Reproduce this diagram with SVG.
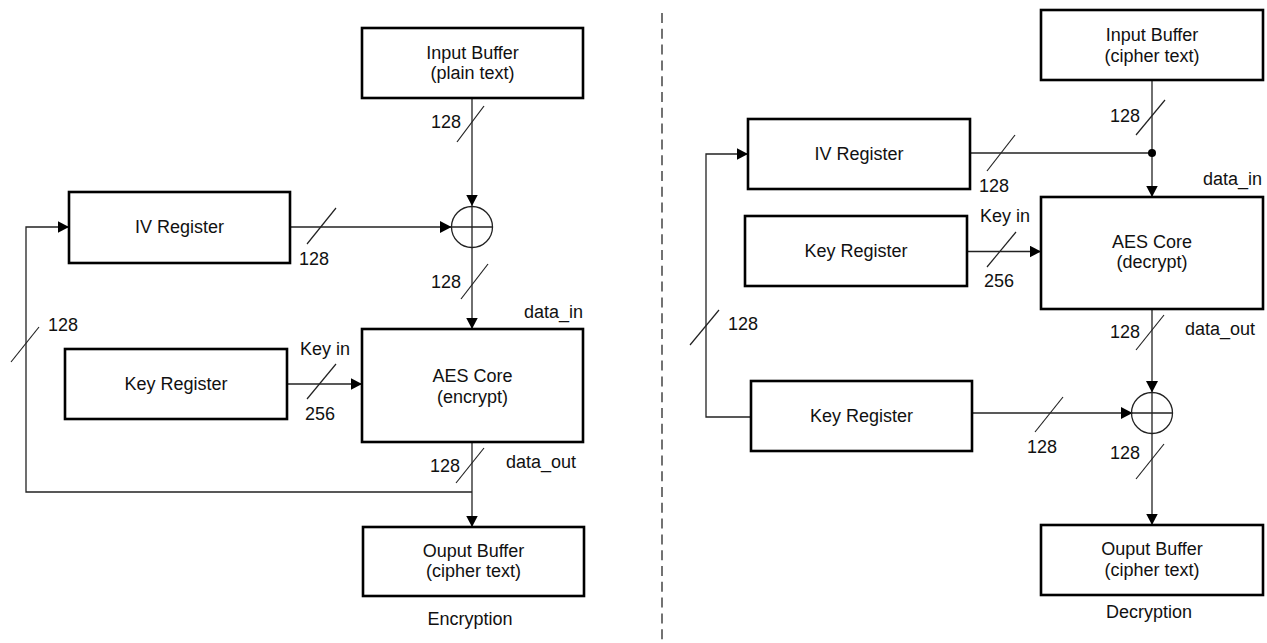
<svg xmlns="http://www.w3.org/2000/svg" width="1267" height="643" viewBox="0 0 1267 643">
<defs>
<marker id="arr" markerUnits="userSpaceOnUse" markerWidth="13" markerHeight="13" refX="11.5" refY="6" orient="auto">
<path d="M0,0 L11.5,6 L0,12 z" fill="#000"/>
</marker>
</defs>
<style>
text{font-family:"Liberation Sans",Arial,sans-serif;font-size:18px;fill:#111}
.box{fill:#fff;stroke:#000;stroke-width:2.6}
.ln{fill:none;stroke:#222;stroke-width:1.3}
.ar{marker-end:url(#arr)}
.sl{stroke:#222;stroke-width:1.2}
.c{text-anchor:middle}
.e{text-anchor:end}
</style>
<rect width="1267" height="643" fill="#fff"/>
<line x1="662" y1="13" x2="662" y2="643" stroke="#444" stroke-width="1.5" stroke-dasharray="10 5.8"/>

<g id="connectors">
<!-- encryption -->
<path class="ln ar" d="M472,98 V206"/>
<path class="ln ar" d="M290,227 H451.5"/>
<path class="ln ar" d="M472,247.5 V329"/>
<path class="ln ar" d="M287,384 H362"/>
<path class="ln ar" d="M472,442 V527"/>
<path class="ln ar" d="M472,492 H26 V227 H69"/>
<line class="sl" x1="457" y1="142" x2="484" y2="106"/>
<line class="sl" x1="307" y1="244" x2="336" y2="208"/>
<line class="sl" x1="461" y1="299" x2="488" y2="264"/>
<line class="sl" x1="307" y1="399" x2="336" y2="364"/>
<line class="sl" x1="456" y1="483" x2="484" y2="448"/>
<line class="sl" x1="11" y1="362" x2="39" y2="327"/>
<text class="e" x="461" y="128">128</text>
<text x="299" y="265">128</text>
<text class="e" x="461" y="288">128</text>
<text x="524" y="318">data_in</text>
<text x="300" y="355">Key in</text>
<text x="305" y="420">256</text>
<text class="e" x="460" y="472">128</text>
<text x="506" y="468">data_out</text>
<text x="48" y="331">128</text>
<!-- decryption -->
<path class="ln ar" d="M1152,80 V197"/>
<path class="ln" d="M970,153 H1152"/>
<path class="ln ar" d="M967,251.5 H1041"/>
<path class="ln ar" d="M1152,309 V392.5"/>
<path class="ln ar" d="M972,413 H1132.5"/>
<path class="ln ar" d="M1152,433.5 V525"/>
<path class="ln ar" d="M751,417 H706 V154 H748"/>
<circle cx="1152" cy="153" r="4" fill="#000"/>
<line class="sl" x1="1136" y1="135" x2="1165" y2="100"/>
<line class="sl" x1="987" y1="171" x2="1015" y2="135"/>
<line class="sl" x1="987" y1="267" x2="1016" y2="232"/>
<line class="sl" x1="1136" y1="350" x2="1164" y2="315"/>
<line class="sl" x1="1035" y1="432" x2="1063" y2="397"/>
<line class="sl" x1="1136" y1="479" x2="1164" y2="444"/>
<line class="sl" x1="690" y1="345" x2="719" y2="310"/>
<text class="e" x="1140" y="122">128</text>
<text x="979" y="191.5">128</text>
<text x="1203" y="185">data_in</text>
<text x="980" y="221.5">Key in</text>
<text x="984" y="287">256</text>
<text class="e" x="1140" y="338">128</text>
<text x="1185" y="335">data_out</text>
<text x="1027" y="452.5">128</text>
<text class="e" x="1140" y="459">128</text>
<text x="728" y="330">128</text>
</g>

<g id="xor_enc">
<circle cx="472" cy="227" r="20.5" fill="none" stroke="#222" stroke-width="1.3"/>
<path class="ln" d="M451.5,227 H492.5 M472,206.5 V247.5"/>
</g>
<g id="xor_dec">
<circle cx="1152" cy="413" r="20.5" fill="none" stroke="#222" stroke-width="1.3"/>
<path class="ln" d="M1131.5,413 H1172.5 M1152,392.5 V433.5"/>
</g>

<g id="input_buffer_enc">
<rect class="box" x="362" y="28" width="221" height="70"/>
<text class="c" x="472.5" y="59">Input Buffer</text>
<text class="c" x="472.5" y="79">(plain text)</text>
</g>
<g id="iv_register_enc">
<rect class="box" x="69" y="192" width="221" height="71"/>
<text class="c" x="179.5" y="233">IV Register</text>
</g>
<g id="key_register_enc">
<rect class="box" x="65" y="349" width="222" height="70"/>
<text class="c" x="176" y="390">Key Register</text>
</g>
<g id="aes_core_enc">
<rect class="box" x="362" y="329" width="221" height="113"/>
<text class="c" x="472.5" y="382">AES Core</text>
<text class="c" x="472.5" y="403">(encrypt)</text>
</g>
<g id="output_buffer_enc">
<rect class="box" x="363" y="527" width="221" height="69"/>
<text class="c" x="473.5" y="557">Ouput Buffer</text>
<text class="c" x="473.5" y="577">(cipher text)</text>
</g>
<text id="label_enc" class="c" x="470" y="625">Encryption</text>

<g id="input_buffer_dec">
<rect class="box" x="1041" y="10" width="222" height="70"/>
<text class="c" x="1152" y="41">Input Buffer</text>
<text class="c" x="1152" y="62">(cipher text)</text>
</g>
<g id="iv_register_dec">
<rect class="box" x="748" y="119" width="222" height="70"/>
<text class="c" x="859" y="160">IV Register</text>
</g>
<g id="key_register_dec">
<rect class="box" x="745" y="216" width="222" height="70"/>
<text class="c" x="856" y="257">Key Register</text>
</g>
<g id="aes_core_dec">
<rect class="box" x="1041" y="197" width="222" height="112"/>
<text class="c" x="1152" y="248">AES Core</text>
<text class="c" x="1152" y="268">(decrypt)</text>
</g>
<g id="key_register_dec2">
<rect class="box" x="751" y="381" width="221" height="70"/>
<text class="c" x="861.5" y="422">Key Register</text>
</g>
<g id="output_buffer_dec">
<rect class="box" x="1041" y="525" width="222" height="70"/>
<text class="c" x="1152" y="555">Ouput Buffer</text>
<text class="c" x="1152" y="576">(cipher text)</text>
</g>
<text id="label_dec" class="c" x="1149" y="618">Decryption</text>
</svg>
